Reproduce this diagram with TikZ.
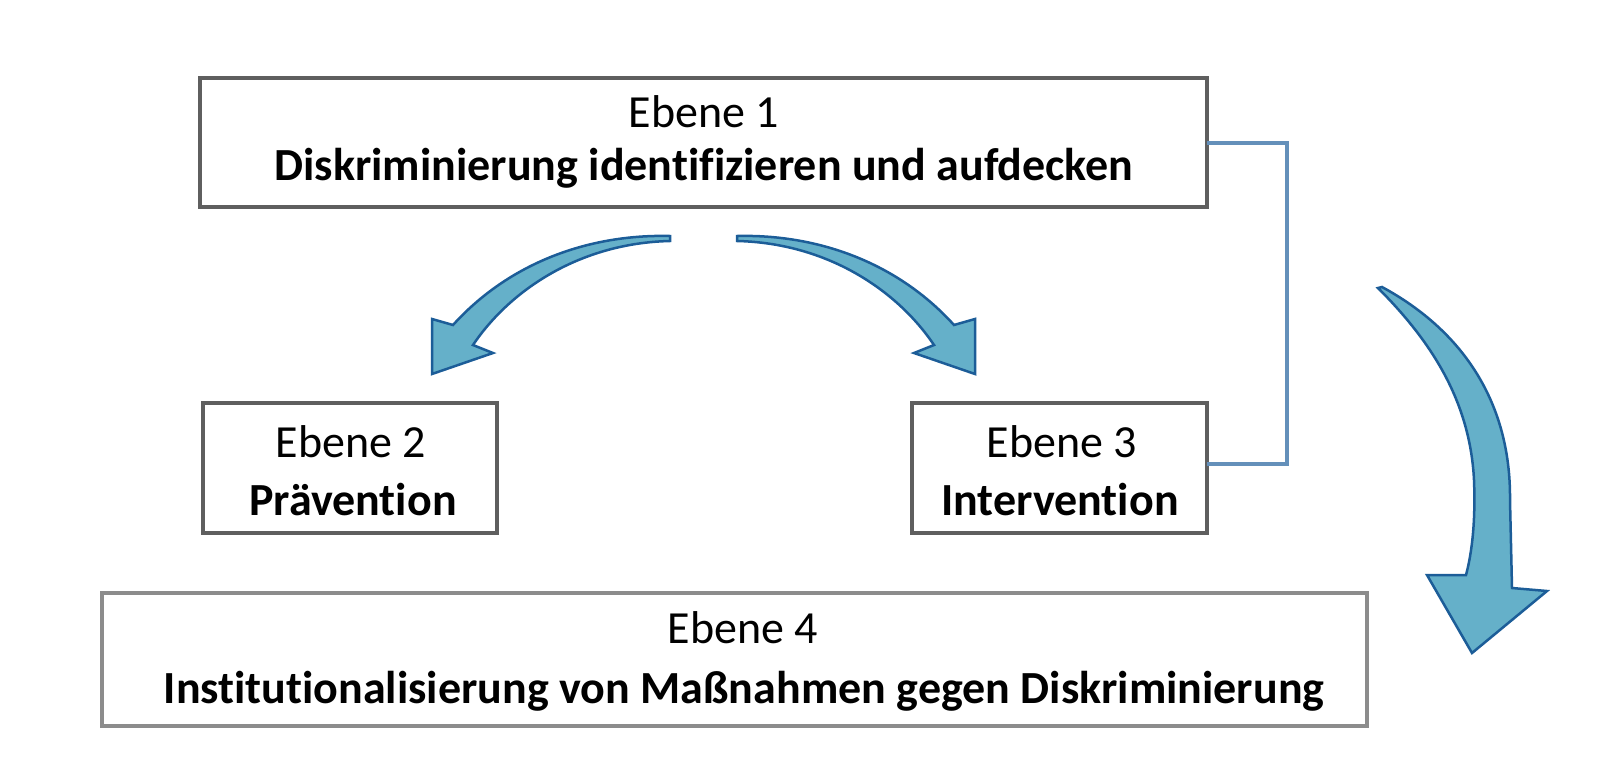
\documentclass[tikz,border=0pt]{standalone}
\usepackage{fontspec}
\setmainfont{Carlito}[Ligatures=CommonOff]
\definecolor{boxgray}{HTML}{5F5F5F}
\definecolor{boxlight}{HTML}{8C8C8C}
\definecolor{linkblue}{HTML}{6490BA}
\definecolor{arrowblue}{HTML}{1C5D98}
\definecolor{arrowfill}{HTML}{65B0C9}
\begin{document}
\begin{tikzpicture}[x=1pt,y=-1pt,
  box/.style={draw=boxgray, line width=4pt, inner sep=0pt, outer sep=0pt},
  boxpale/.style={box, draw=boxlight},
  lvl/.style={font=\fontsize{46}{55}\selectfont, anchor=base, inner sep=0pt, outer sep=0pt},
  ttl/.style={lvl, font=\fontsize{46}{55}\selectfont\bfseries},
  bigarrow/.style={draw=arrowblue, fill=arrowfill, line width=2.5pt, line join=miter},
  link/.style={draw=linkblue, line width=4pt}]
\useasboundingbox (0,0) rectangle (1618,761);
% boxes
\node[box, minimum width=1007pt, minimum height=129pt] (box1) at (703.5,142.5) {};
\node[box, minimum width=294pt, minimum height=130pt] (box2) at (350,468) {};
\node[box, minimum width=295pt, minimum height=130pt] (box3) at (1059.5,468) {};
\node[boxpale, minimum width=1265pt, minimum height=133pt] (box4) at (734.5,659.5) {};
% texts
\node[lvl] (t1a) at (704,127) {Ebene 1};
\node[ttl] (t1b) at (704,180) {Diskriminierung identifizieren und aufdecken};
\node[lvl] (t2a) at (351,457) {Ebene 2};
\node[ttl] (t2b) at (353,515) {Prävention};
\node[lvl] (t3a) at (1062,457) {Ebene 3};
\node[ttl] (t3b) at (1060,515) {Intervention};
\node[lvl] (t4a) at (743,643) {Ebene 4};
\node[ttl] (t4b) at (744,703) {Institutionalisierung von Maßnahmen gegen Diskriminierung};
% connector
\draw[link] (box1.east) -- ++(80,0) |- ([yshift=4pt]box3.east);
% curved arrows
\path[bigarrow] (670,236) .. controls (590,234) and (510,262) .. (453,325)
  -- (432,319) -- (432,374) -- (493,353) -- (473,345)
  .. controls (510,290) and (580,243) .. (670,241) -- cycle;
\path[bigarrow] (737,236) .. controls (817,234) and (897,262) .. (954,325)
  -- (975,319) -- (975,374) -- (914,353) -- (934,345)
  .. controls (897,290) and (827,243) .. (737,241) -- cycle;
\path[bigarrow] (1378,288) .. controls (1430,340) and (1470,400) .. (1474,480)
  .. controls (1476,530) and (1470,560) .. (1466,575)
  -- (1427,575) -- (1472,653) -- (1547,591) -- (1512,588)
  -- (1510,500) .. controls (1511,405) and (1465,332) .. (1382,287) -- cycle;
\end{tikzpicture}
\end{document}
